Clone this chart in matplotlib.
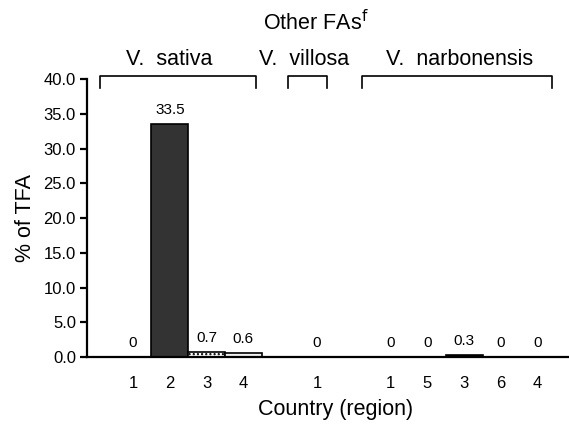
"""
Other FAs bar chart by species / country
"""
import matplotlib.pyplot as plt

plt.rcParams['font.family'] = ['Liberation Sans', 'DejaVu Sans']

species = ['V.  sativa', 'V.  villosa', 'V.  narbonensis']
regions = [['1', '2', '3', '4'], ['1'], ['1', '5', '3', '6', '4']]
values = [[0, 33.5, 0.7, 0.6], [0], [0, 0, 0.3, 0, 0]]
value_labels = [['0', '33.5', '0.7', '0.6'], ['0'], ['0', '0', '0.3', '0', '0']]
yticks = [0, 5, 10, 15, 20, 25, 30, 35, 40]

# bar styles, same order as values
faces = [['white', '#333333', 'white', '#f2f2f2'], ['white'],
         ['white', 'white', 'black', 'white', 'white']]
hatches = [[None, None, '....', None], [None], [None] * 5]

gap = 1  # empty slot between groups

fig = plt.figure(figsize=(5.69, 4.37), dpi=100)
ax = fig.add_axes([0.153, 0.183, 0.847, 0.636])

pos = 0
group_spans = []
ticks, ticklabels = [], []
for g in range(len(species)):
    start = pos
    for i, v in enumerate(values[g]):
        ax.bar(pos, v, width=1.0, color=faces[g][i], edgecolor='black',
               linewidth=1.2, hatch=hatches[g][i], zorder=2)
        ax.annotate(value_labels[g][i], (pos, v), xytext=(0, 5),
                    textcoords='offset points', ha='center', va='bottom',
                    fontsize=11,
                    family=['Liberation Sans Narrow', 'Liberation Sans'])
        ticks.append(pos)
        ticklabels.append(regions[g][i])
        pos += 1
    group_spans.append((start, pos - 1))
    pos += gap

ax.set_xlim(-1.25, 11.85)
ax.set_ylim(0, 40)
ax.set_xticks(ticks)
ax.set_xticklabels(ticklabels, fontsize=12)
ax.set_yticks(yticks)
ax.set_yticklabels(['%.1f' % t for t in yticks], fontsize=12)
ax.tick_params(axis='x', length=0, pad=14)
ax.tick_params(axis='y', length=5, width=1.6, direction='out', pad=3)

for s in ['top', 'right']:
    ax.spines[s].set_visible(False)
for s in ['left', 'bottom']:
    ax.spines[s].set_linewidth(1.6)

ax.set_ylabel('% of TFA', fontsize=15.5)
ax.yaxis.set_label_coords(-0.105, 0.5)
ax.set_xlabel('Country (region)', fontsize=15.5)
ax.xaxis.set_label_coords(0.515, -0.15)

# species brackets (left / right overhang in bar slots), label nudge
pads = [(0.1, 0.33), (0.22, 0.27), (0.22, 0.39)]
shifts = [-0.23, -0.11, 0.07]
for (a, b), (pl, pr), dx, name in zip(group_spans, pads, shifts, species):
    x0, x1 = a - 1 + pl, b + pr
    ax.plot([x0, x0, x1, x1], [38.7, 40.45, 40.45, 38.7], color='black',
            lw=1.2, clip_on=False)
    ax.text((x0 + x1) / 2 + dx, 42.0, name, ha='center', va='baseline',
            fontsize=15.5, clip_on=False)

fig.text(0.556, 0.948, r'Other FAs$^{\mathrm{f}}$', ha='center', va='center',
         fontsize=15.5)

plt.savefig('out.png', dpi=100)
plt.close()
